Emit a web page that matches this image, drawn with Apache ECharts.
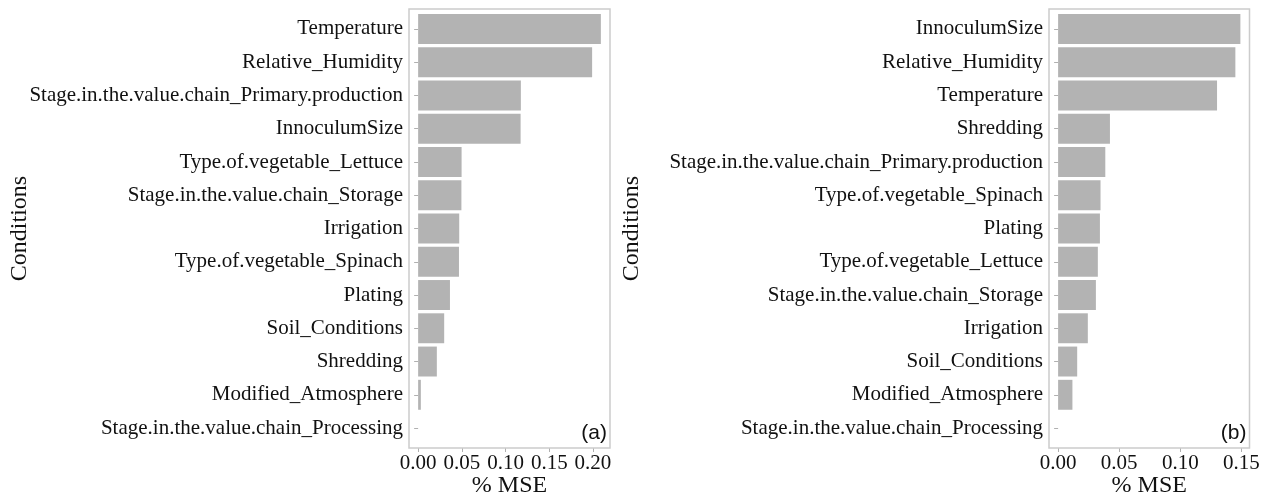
<!DOCTYPE html>
<html>
<head>
<meta charset="utf-8">
<script src="https://cdn.jsdelivr.net/npm/echarts@6/dist/echarts.min.js"></script>
<style>
  html, body { margin: 0; padding: 0; background: #ffffff; }
  #chart { width: 1265px; height: 498px; }
</style>
</head>
<body>
<div id="chart"></div>
<script>
// Variable importance (% MSE) for two random-forest models, most important first.
const conditionsA = [
  'Temperature', 'Relative_Humidity', 'Stage.in.the.value.chain_Primary.production',
  'InnoculumSize', 'Type.of.vegetable_Lettuce', 'Stage.in.the.value.chain_Storage',
  'Irrigation', 'Type.of.vegetable_Spinach', 'Plating', 'Soil_Conditions',
  'Shredding', 'Modified_Atmosphere', 'Stage.in.the.value.chain_Processing'
];
const mseA = [0.209, 0.199, 0.1175, 0.1172, 0.0497, 0.0495, 0.0470, 0.0467, 0.0364, 0.0298, 0.0214, 0.0031, 0.0];

const conditionsB = [
  'InnoculumSize', 'Relative_Humidity', 'Temperature', 'Shredding',
  'Stage.in.the.value.chain_Primary.production', 'Type.of.vegetable_Spinach', 'Plating',
  'Type.of.vegetable_Lettuce', 'Stage.in.the.value.chain_Storage', 'Irrigation',
  'Soil_Conditions', 'Modified_Atmosphere', 'Stage.in.the.value.chain_Processing'
];
const mseB = [0.1491, 0.145, 0.130, 0.0424, 0.0386, 0.0347, 0.0342, 0.0325, 0.0309, 0.0243, 0.0156, 0.0117, 0.0];

const ticksA = [0, 0.05, 0.10, 0.15, 0.20];
const ticksB = [0, 0.05, 0.10, 0.15];
const panelTags = ['(a)', '(b)'];

const SERIF = "'Liberation Serif', 'Times New Roman', serif";
const SANS = "'Liberation Sans', Arial, sans-serif";
const BAR = '#b3b3b3';
const FRAME = '#cccccc';
const TEXT = '#111111';

// Panel frames in pixels: [left, top, right, bottom]
const panels = [
  { frame: [409, 9, 610, 448], cats: conditionsA, vals: mseA, ticks: ticksA, nameGap: 377 },
  { frame: [1049, 9, 1249.5, 448], cats: conditionsB, vals: mseB, ticks: ticksB, nameGap: 405 }
];

const grids = [], xAxes = [], yAxes = [], series = [], graphics = [];

panels.forEach((p, i) => {
  const [l, t, r, b] = p.frame;
  const n = p.cats.length;
  // discrete axis padded by 0.6 of a band on each end
  const band = (b - t) / (n - 1 + 1.2);
  const pad = 0.1 * band;
  grids.push({
    left: l, top: t + pad, width: r - l, height: n * band,
    containLabel: false, outerBoundsMode: 'none'
  });

  // continuous axis expanded by 5% of the data range on each side
  const vmax = Math.max(...p.vals);
  const vmin = Math.min(0, ...p.vals);
  const span = vmax - vmin;
  xAxes.push({
    type: 'value', gridIndex: i,
    min: vmin - 0.05 * span, max: vmax + 0.05 * span,
    offset: pad,
    splitLine: { show: false },
    axisLine: { show: false },
    axisTick: { show: true, length: 4, lineStyle: { color: '#b0b0b0', width: 1 }, customValues: p.ticks },
    axisLabel: {
      customValues: p.ticks, margin: 5,
      formatter: v => v.toFixed(2),
      fontFamily: SERIF, fontSize: 21, color: TEXT
    },
    name: '% MSE', nameLocation: 'middle', nameGap: 22 + pad, nameMoveOverlap: false,
    nameTextStyle: { fontFamily: SERIF, fontSize: 24, color: TEXT }
  });
  yAxes.push({
    type: 'category', gridIndex: i, data: p.cats, inverse: true,
    axisLine: { show: false },
    axisTick: { show: true, length: 4, alignWithLabel: true, lineStyle: { color: '#b0b0b0', width: 1 } },
    axisLabel: { margin: 6, fontFamily: SERIF, fontSize: 21, color: TEXT, interval: 0 },
    name: 'Conditions', nameLocation: 'middle', nameGap: p.nameGap, nameRotate: 90, nameMoveOverlap: false,
    nameTextStyle: { fontFamily: SERIF, fontSize: 24, color: TEXT }
  });
  series.push({
    type: 'bar', xAxisIndex: i, yAxisIndex: i, data: p.vals,
    barCategoryGap: '10%',
    itemStyle: { color: BAR },
    silent: true
  });
  graphics.push({
    type: 'rect', shape: { x: l, y: t, width: r - l, height: b - t },
    style: { fill: null, stroke: FRAME, lineWidth: 1.5 }, z: 10, silent: true
  });
  graphics.push({
    type: 'text', right: 1265 - r + 3, bottom: 498 - b + 4,
    style: { text: panelTags[i], font: '21px ' + SANS, fill: TEXT }, z: 11, silent: true
  });
});

const chart = echarts.init(document.getElementById('chart'), null, { renderer: 'canvas' });
chart.setOption({
  animation: false,
  backgroundColor: '#ffffff',
  grid: grids,
  xAxis: xAxes,
  yAxis: yAxes,
  series: series,
  graphic: graphics
});
</script>
</body>
</html>
